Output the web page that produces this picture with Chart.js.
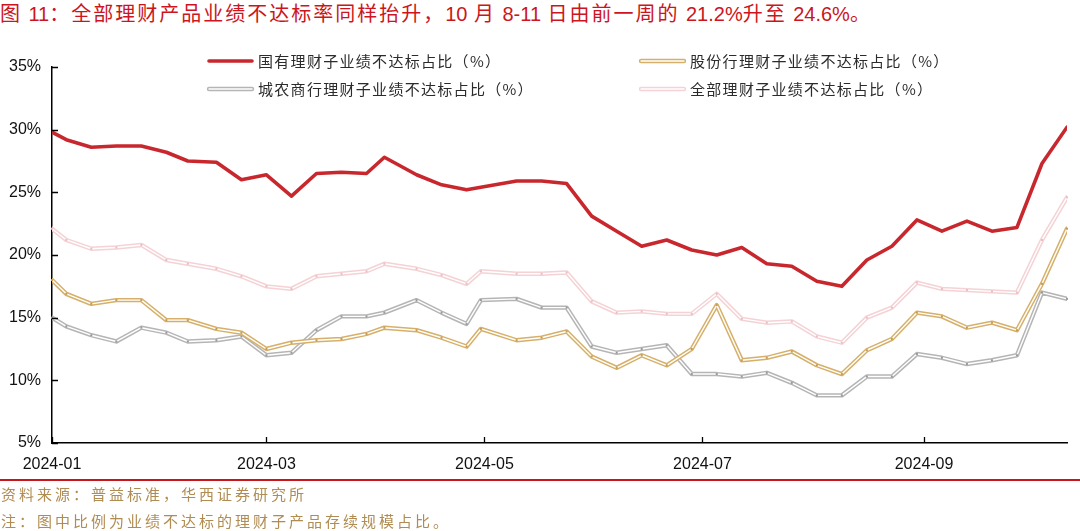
<!DOCTYPE html>
<html>
<head>
<meta charset="utf-8">
<script src="https://cdn.jsdelivr.net/npm/chart.js@4.4.1/dist/chart.umd.min.js"></script>
<style>
  html, body { margin: 0; padding: 0; background: #fff; }
  body { width: 1080px; height: 531px; position: relative; overflow: hidden; font-family: "Noto Sans CJK SC", sans-serif; }
  #title { position: absolute; left: 0; top: 0; font-size: 20px; line-height: 25px; color: #cc1520; letter-spacing: 2px; white-space: nowrap; }
  #title .num { font-family: "Liberation Sans", Arial, sans-serif; letter-spacing: 0; }
  #chartBox { position: absolute; left: 0; top: 0; width: 1080px; height: 531px; }
  #rule { position: absolute; left: 0; top: 479px; width: 1080px; height: 2px; background: #c8161d; }
  .note { position: absolute; left: 1px; font-size: 15px; line-height: 20px; color: #b08c52; letter-spacing: 3px; white-space: nowrap; }
</style>
</head>
<body>
<div id="title">图 <span class="num">11</span>：全部理财产品业绩不达标率同样抬升，<span class="num">10</span> 月 <span class="num">8-11</span> 日由前一周的 <span class="num">21.2%</span>升至 <span class="num">24.6%</span>。</div>
<div id="chartBox"><canvas id="rateChart"></canvas></div>
<div id="rule"></div>
<div class="note" style="top:484px">资料来源：普益标准，华西证券研究所</div>
<div class="note" style="top:511px">注：图中比例为业绩不达标的理财子产品存续规模占比。</div>

<script>
// weekly observation dates (holiday weeks shift the point)
const dates = [
  '2024-01-01','2024-01-05','2024-01-12','2024-01-19','2024-01-26',
  '2024-02-02','2024-02-08','2024-02-16','2024-02-23',
  '2024-03-01','2024-03-08','2024-03-15','2024-03-22','2024-03-29',
  '2024-04-03','2024-04-12','2024-04-19','2024-04-26','2024-04-30',
  '2024-05-10','2024-05-17','2024-05-24','2024-05-31',
  '2024-06-07','2024-06-14','2024-06-21','2024-06-28',
  '2024-07-05','2024-07-12','2024-07-19','2024-07-26',
  '2024-08-02','2024-08-09','2024-08-16','2024-08-23','2024-08-30',
  '2024-09-06','2024-09-13','2024-09-20','2024-09-27',
  '2024-10-04','2024-10-11'
];

const seriesNames = [
  '国有理财子业绩不达标占比（%）',
  '股份行理财子业绩不达标占比（%）',
  '城农商行理财子业绩不达标占比（%）',
  '全部理财子业绩不达标占比（%）'
];

const stateOwned = [29.8,29.2,28.6,28.7,28.7,28.2,27.5,27.4,26.0,26.4,24.7,26.5,26.6,26.5,27.8,26.4,25.6,25.2,25.4,25.9,25.9,25.7,23.1,21.9,20.7,21.2,20.4,20.0,20.6,19.3,19.1,17.9,17.5,19.6,20.7,22.8,21.9,22.7,21.9,22.2,27.3,30.2];
const jointStock = [18.0,16.9,16.1,16.4,16.4,14.8,14.8,14.1,13.8,12.5,13.0,13.2,13.3,13.7,14.2,14.0,13.4,12.7,14.1,13.2,13.4,13.9,11.9,11.0,12.0,11.2,12.5,16.0,11.6,11.8,12.3,11.2,10.5,12.4,13.3,15.4,15.1,14.2,14.6,14.0,17.7,22.1];
const cityRural = [15.0,14.3,13.6,13.1,14.2,13.8,13.1,13.2,13.5,12.0,12.2,14.0,15.1,15.1,15.4,16.4,15.4,14.5,16.4,16.5,15.8,15.8,12.7,12.2,12.5,12.8,10.5,10.5,10.3,10.6,9.8,8.8,8.8,10.3,10.3,12.1,11.8,11.3,11.6,12.0,17.0,16.5];
const allProducts = [22.1,21.2,20.5,20.6,20.8,19.6,19.3,18.9,18.3,17.5,17.3,18.3,18.5,18.7,19.3,18.9,18.4,17.7,18.7,18.5,18.5,18.6,16.3,15.4,15.5,15.3,15.3,16.9,14.9,14.6,14.7,13.5,13.0,15.0,15.8,17.8,17.3,17.2,17.1,17.0,21.2,24.6];

const monthTicks = ['2024-01','2024-03','2024-05','2024-07','2024-09'];
const yTicks = [5, 10, 15, 20, 25, 30, 35];

// x axis counts days since 2024-01-01
const dayOf = d => (Date.parse(d) - Date.parse('2024-01-01')) / 864e5;
const xDays = dates.map(dayOf);
const tickDays = monthTicks.map(m => dayOf(m + '-01'));
const toPoints = arr => arr.map((v, i) => ({ x: xDays[i], y: v }));

// legend slots: left column / right column, two rows
const legendSlots = [[209, 61], [641, 61], [209, 89], [641, 89]];

function strokeLine(ctx, pts, ds) {
  ctx.lineJoin = 'round';
  ctx.lineCap = 'round';
  ctx.beginPath();
  pts.forEach(([x, y], i) => i ? ctx.lineTo(x, y) : ctx.moveTo(x, y));
  ctx.strokeStyle = ds.borderColor;
  ctx.lineWidth = ds.borderWidth;
  ctx.stroke();
  if (ds.innerColor) {
    ctx.strokeStyle = ds.innerColor;
    ctx.lineWidth = 1.4;
    ctx.stroke();
  }
}

// the paler series are drawn as hollow (double) lines with small markers
const hollowLines = {
  id: 'hollowLines',
  afterDatasetDraw(chart, args) {
    const ds = chart.data.datasets[args.index];
    if (!ds.innerColor) return;
    const ctx = chart.ctx;
    const pts = args.meta.data.map(p => [p.x, p.y]);
    ctx.save();
    ctx.lineJoin = 'round';
    ctx.beginPath();
    pts.forEach(([x, y], i) => i ? ctx.lineTo(x, y) : ctx.moveTo(x, y));
    ctx.strokeStyle = ds.innerColor;
    ctx.lineWidth = 1.4;
    ctx.stroke();
    ctx.fillStyle = ds.dotColor;
    pts.forEach(([x, y]) => ctx.fillRect(x - 1, y - 1, 2, 2));
    ctx.restore();
  }
};

const innerTicks = {
  id: 'innerTicks',
  afterDraw(chart) {
    const { ctx, chartArea: a, scales: { x, y } } = chart;
    ctx.save();
    ctx.strokeStyle = '#000';
    ctx.lineWidth = 1.3;
    ctx.beginPath();
    yTicks.forEach(v => {
      const py = Math.round(y.getPixelForValue(v)) + 0.5;
      ctx.moveTo(a.left, py);
      ctx.lineTo(a.left + 6, py);
    });
    tickDays.forEach(v => {
      const px = Math.round(x.getPixelForValue(v)) + 0.5;
      ctx.moveTo(px, a.bottom);
      ctx.lineTo(px, a.bottom - 6);
    });
    ctx.stroke();
    ctx.restore();
  }
};

const cornerLegend = {
  id: 'cornerLegend',
  afterDraw(chart) {
    const ctx = chart.ctx;
    ctx.save();
    ctx.font = '15px "Noto Sans CJK SC"';
    ctx.letterSpacing = '1.3px';
    ctx.textBaseline = 'middle';
    ctx.fillStyle = '#2b2b2b';
    chart.data.datasets.forEach((ds, i) => {
      const [lx, ly] = legendSlots[i];
      strokeLine(ctx, [[lx, ly], [lx + 43, ly]], ds);
      ctx.fillText(ds.label, lx + 49, ly);
    });
    ctx.restore();
  }
};

const tickFont = { family: '"Liberation Sans", Arial, sans-serif', size: 16 };

new Chart(document.getElementById('rateChart'), {
  type: 'line',
  data: {
    datasets: [
      { label: seriesNames[0], data: toPoints(stateOwned), borderColor: '#c8282d', borderWidth: 3.6 },
      { label: seriesNames[1], data: toPoints(jointStock), borderColor: '#d6b06a', borderWidth: 4.4, innerColor: '#fff', dotColor: '#c99b4c' },
      { label: seriesNames[2], data: toPoints(cityRural), borderColor: '#b5b5b5', borderWidth: 4.4, innerColor: '#fff', dotColor: '#999' },
      { label: seriesNames[3], data: toPoints(allProducts), borderColor: '#f4d2d5', borderWidth: 4.4, innerColor: '#fff', dotColor: '#ecbcc0' }
    ]
  },
  options: {
    responsive: true,
    maintainAspectRatio: false,
    animation: false,
    events: [],
    layout: { padding: { left: 0, top: 67, right: 13, bottom: 48 } },
    elements: {
      line: { tension: 0, borderJoinStyle: 'round', borderCapStyle: 'round', fill: false },
      point: { radius: 0 }
    },
    plugins: { legend: { display: false }, tooltip: { enabled: false } },
    scales: {
      x: {
        type: 'linear',
        min: 0,
        max: xDays[xDays.length - 1],
        afterBuildTicks: s => { s.ticks = tickDays.map(v => ({ value: v })); },
        afterFit: s => { s.height = 40; },
        grid: { display: false, drawTicks: false },
        border: { display: true, color: '#000', width: 1.5 },
        ticks: {
          autoSkip: false, maxRotation: 0, padding: 12,
          color: '#111', font: tickFont,
          callback: (v, i) => monthTicks[i]
        }
      },
      y: {
        min: 5,
        max: 35,
        afterBuildTicks: s => { s.ticks = yTicks.map(v => ({ value: v })); },
        afterFit: s => { s.width = 52; },
        grid: { display: false, drawTicks: false },
        border: { display: true, color: '#000', width: 1.5 },
        ticks: { padding: 11, color: '#111', font: tickFont, callback: v => v + '%' }
      }
    }
  },
  plugins: [hollowLines, innerTicks, cornerLegend]
});
</script>
</body>
</html>
